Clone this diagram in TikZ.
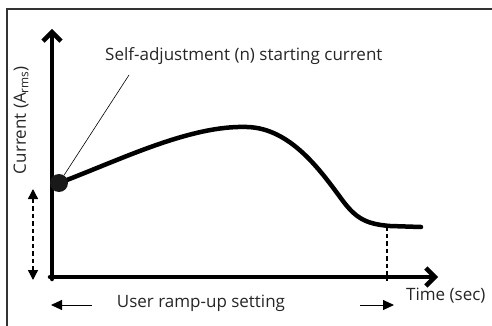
\documentclass[tikz,border=0pt]{standalone}
\usepackage{fontspec}
\setmainfont{Open Sans}
\usetikzlibrary{arrows.meta}
\definecolor{txt}{gray}{0.15}
\begin{document}
\begin{tikzpicture}[x=1pt,y=-1pt,
  axis/.style={line width=4.5pt,line cap=round},
  curve/.style={line width=4.5pt,line cap=round},
  lbl/.style={font=\fontsize{17}{20}\selectfont,inner sep=0pt,text=txt},
  small/.style={-{Triangle[length=11pt,width=10pt]},line width=1pt},
  dashline/.style={dash pattern=on 4.5pt off 3pt,line width=1.4pt}]
\useasboundingbox (0,0) rectangle (492,326);
\fill[white] (0,0) rectangle (492,326);
% frame
\draw[line width=1.2pt,black!80] (492,9) -- (7,9) -- (7,326);
% coordinates
\coordinate (ytop) at (52,29);
\coordinate (xend) at (438,277);
\coordinate (start) at (59,183);
\coordinate (peak) at (247,127);
\coordinate (mid) at (340,197);
\coordinate (knee) at (390,226);
\coordinate (cend) at (421,227);
% axes
\draw[axis,-{Straight Barb[length=9pt,width=18pt,line width=4.5pt]}] (52,279) -- (ytop);
\draw[axis,-{Straight Barb[length=9pt,width=18pt,line width=4.5pt]}] (50,277) -- (xend);
% curve
\draw[curve] (start) .. controls (120,160) and (190,125) .. (peak)
  .. controls (290,128) and (320,170) .. (mid)
  .. controls (355,218) and (365,224) .. (knee) -- (cend);
% dot
\node[circle,fill=black!90,minimum size=18pt,inner sep=0pt] (dot) at (start) {};
% dashed vertical
\coordinate (dtop) at (387,226);
\coordinate (dbot) at (387,281);
\draw[dashline] (dtop) -- (dbot);
% dashed double arrow
\coordinate (da) at (33,189);
\coordinate (db) at (33,280);
\draw[dashline,{Triangle[length=10pt,width=10pt]}-{Triangle[length=10pt,width=10pt]}] (da) -- (db);
% label
\node[lbl,anchor=base west] (selfadj) at (105,61) {Self-adjustment (n) starting current};
\coordinate (leadend) at (129,75);
\draw[line width=0.6pt] (dot) -- (leadend);
\node[lbl,rotate=90] (ylab) at (21,120) {Current (A\textsubscript{rms})};
\node[lbl] (ramp) at (201,303) {User ramp-up setting};
\node[lbl,anchor=west] (time) at (406,296) {Time (sec)};
\coordinate (la) at (92,305);
\coordinate (lb) at (51,305);
\draw[small] (la) -- (lb);
\coordinate (ra) at (360,305);
\coordinate (rb) at (394,305);
\draw[small] (ra) -- (rb);
\end{tikzpicture}
\end{document}
